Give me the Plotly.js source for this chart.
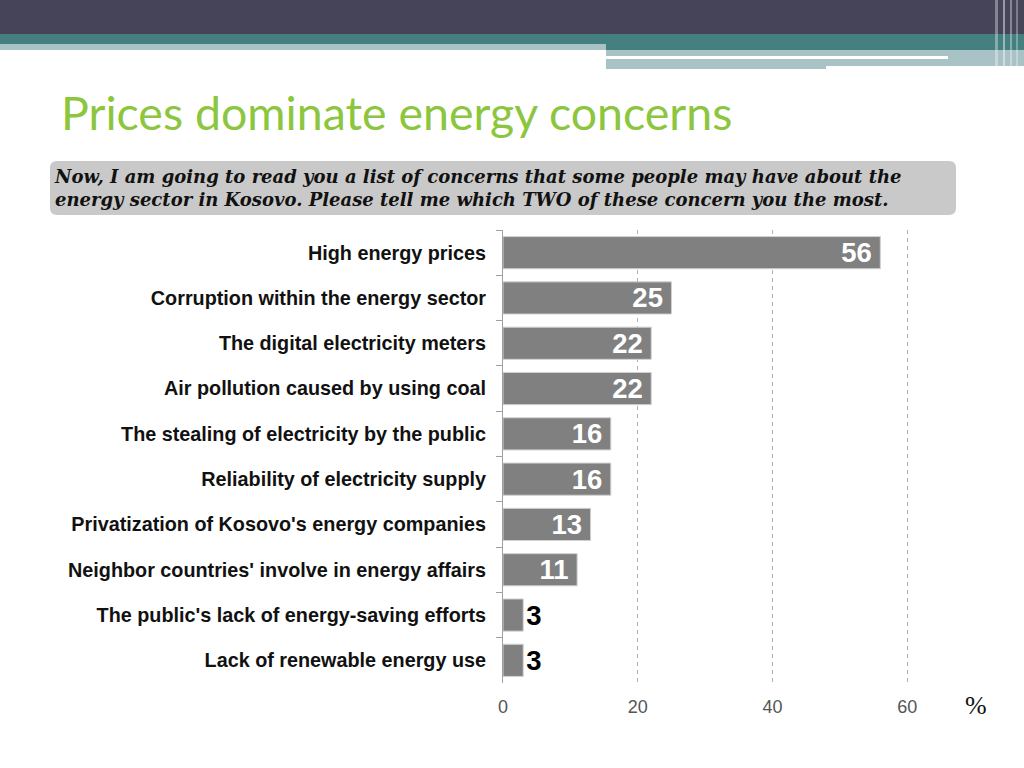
<!DOCTYPE html>
<html>
<head>
<meta charset="utf-8">
<script src="https://cdn.plot.ly/plotly-3.0.1.min.js"></script>
<style>
  html, body { margin: 0; padding: 0; background: #fff; }
  #chart { width: 1024px; height: 768px; }
</style>
</head>
<body>
<div id="chart"></div>
<script>
// survey answers, top to bottom
const concerns = [
  "High energy prices",
  "Corruption within the energy sector",
  "The digital electricity meters",
  "Air pollution caused by using coal",
  "The stealing of electricity by the public",
  "Reliability of electricity supply",
  "Privatization of Kosovo's energy companies",
  "Neighbor countries' involve in energy affairs",
  "The public's lack of energy-saving efforts",
  "Lack of renewable energy use"
];
const shares = [56, 25, 22, 22, 16, 16, 13, 11, 3, 3];
const xTicks = [0, 20, 40, 60];

const titleText = "Prices dominate energy concerns";
const questionLines = [
  "Now, I am going to read you a list of concerns that some people may have about the",
  "energy sector in Kosovo. Please tell me which TWO of these concern you the most."
];

// page geometry (pixels)
const W = 1024, H = 768;
const ml = 503, mr = 110, mt = 230, mb = 85;
const plotW = W - ml - mr, plotH = H - mt - mb;
const px = x => (x - ml) / plotW;
const py = y => 1 - (y - mt) / plotH;

// rectangle in pixel coords -> paper shape
function box(x0, y0, x1, y1, color) {
  return {
    type: "rect", xref: "paper", yref: "paper", layer: "below",
    x0: px(x0), x1: px(x1), y0: py(y1), y1: py(y0),
    fillcolor: color, line: { width: 0 }
  };
}

// rounded box for the question
function roundBox(x0, y0, x1, y1, r, color) {
  const X = px, Y = py;
  const p = [
    "M", X(x0 + r), Y(y0),
    "L", X(x1 - r), Y(y0),
    "Q", X(x1), Y(y0), X(x1), Y(y0 + r),
    "L", X(x1), Y(y1 - r),
    "Q", X(x1), Y(y1), X(x1 - r), Y(y1),
    "L", X(x0 + r), Y(y1),
    "Q", X(x0), Y(y1), X(x0), Y(y1 - r),
    "L", X(x0), Y(y0 + r),
    "Q", X(x0), Y(y0), X(x0 + r), Y(y0), "Z"
  ].join(" ");
  return {
    type: "path", xref: "paper", yref: "paper", layer: "below",
    path: p, fillcolor: color, line: { width: 0 }
  };
}

const shapes = [
  box(0, 0, W, 34, "#454459"),
  box(0, 34, W, 44, "#44807f"),
  box(0, 44, 606, 50, "#a9c2c5"),
  box(606, 44, W, 50, "#44807f"),
  box(606, 50, W, 66, "#a9c2c5"),
  box(606, 66, 826, 69, "#a9c2c5"),
  box(606, 56, 948, 59, "#ffffff"),
  box(995, 0, 998, 66, "rgba(255,255,255,0.35)"),
  box(1003, 0, 1005, 68, "rgba(255,255,255,0.45)"),
  box(1010, 0, 1012, 68, "rgba(255,255,255,0.35)"),
  box(1016, 0, 1018, 66, "rgba(255,255,255,0.3)"),
  roundBox(50, 161, 956, 215, 7, "#c9c9c9")
];

const annotations = [
  {
    xref: "paper", yref: "paper", x: px(59), y: py(112),
    xanchor: "left", yanchor: "middle", showarrow: false,
    text: titleText,
    font: { family: "Lato, 'Open Sans', sans-serif", size: 46.5, color: "#8cc63e" }
  },
  {
    xref: "paper", yref: "paper", x: px(52), y: py(188),
    xanchor: "left", yanchor: "middle", showarrow: false, align: "left",
    text: questionLines.map(s => "<b><i>" + s + "</i></b>").join("<br>"),
    font: { family: "'DejaVu Serif', serif", size: 18, color: "#111" }
  },
  {
    xref: "paper", yref: "paper", x: px(976), y: py(705),
    xanchor: "center", yanchor: "middle", showarrow: false,
    text: "%",
    font: { family: "'Liberation Serif', serif", size: 26, color: "#111" }
  }
];

const trace = {
  type: "bar",
  orientation: "h",
  y: concerns,
  x: shares,
  marker: { color: "#808080", line: { color: "#d0d0d0", width: 1 } },
  texttemplate: shares.map(v => v > 5 ? "<b>%{x}</b>&#8201;" : "<b>%{x}</b>"),
  textposition: shares.map(v => v > 5 ? "inside" : "outside"),
  textangle: 0,
  insidetextanchor: "end",
  constraintext: "none",
  cliponaxis: false,
  textfont: {
    family: "'Liberation Sans', Arial, sans-serif",
    size: 27.5,
    color: shares.map(v => v > 5 ? "#ffffff" : "#000000")
  },
  hoverinfo: "none"
};

const layout = {
  width: W, height: H,
  margin: { l: ml, r: mr, t: mt, b: mb },
  paper_bgcolor: "#ffffff",
  plot_bgcolor: "#ffffff",
  showlegend: false,
  bargap: 0.29,
  font: { family: "'Liberation Sans', Arial, sans-serif" },
  xaxis: {
    range: [0, 61],
    tickvals: xTicks,
    showgrid: true,
    gridcolor: "#b0b0b0",
    griddash: "4px,4px",
    gridwidth: 1,
    zeroline: false,
    showline: false,
    ticks: "",
    ticklabelstandoff: 11,
    tickfont: { size: 18, color: "#555" }
  },
  yaxis: {
    autorange: "reversed",
    showline: true,
    linecolor: "#a0a0a0",
    ticks: "outside",
    tickson: "boundaries",
    ticklen: 6,
    tickcolor: "#a0a0a0",
    ticklabelstandoff: 12,
    showgrid: false,
    tickfont: { size: 19.8, color: "#111", weight: "bold" }
  },
  shapes: shapes,
  annotations: annotations
};

Plotly.newPlot("chart", [trace], layout, { displayModeBar: false, staticPlot: true });
</script>
</body>
</html>
